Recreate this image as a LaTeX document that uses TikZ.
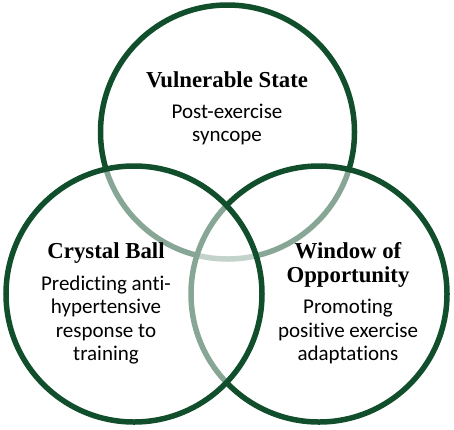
\documentclass[tikz,border=0pt]{standalone}
\usepackage{fontspec}
\setmainfont{Liberation Serif}
\newfontfamily\bodyfont[Ligatures=NoCommon]{Carlito}
\definecolor{vgreen}{HTML}{114E2B}
\begin{document}
\begin{tikzpicture}[x=1pt,y=-1pt,
  ring/.style={draw=vgreen,line width=5.5pt},
  veil/.style={ring,fill=white,fill opacity=0.5,draw opacity=1},
  ttl/.style={font=\fontsize{22.8}{24}\selectfont\bfseries,anchor=base,inner sep=0pt},
  body/.style={font=\bodyfont\fontsize{21}{23.5}\selectfont,anchor=base,inner sep=0pt}]
\useasboundingbox (0,0) rectangle (454,429);
\draw[ring] (227.5,132) circle[radius=127];
\draw[veil] (319,294) circle[radius=128];
\draw[veil] (134,294) circle[radius=128];
\node[ttl] (t1) at (227,87) {Vulnerable State};
\node[body] (b1a) at (227,118) {Post-exercise};
\node[body] (b1b) at (227,141) {syncope};
\node[ttl] (t2) at (106,258) {Crystal Ball};
\node[body] (b2a) at (106,290) {Predicting anti-};
\node[body] (b2b) at (106,313) {hypertensive};
\node[body] (b2c) at (106,337) {response to};
\node[body] (b2d) at (106,360) {training};
\node[ttl] (t3a) at (348,258) {Window of};
\node[ttl] (t3b) at (348,282) {Opportunity};
\node[body] (b3a) at (348,313) {Promoting};
\node[body] (b3b) at (348,337) {positive exercise};
\node[body] (b3c) at (348,360) {adaptations};
\end{tikzpicture}
\end{document}
